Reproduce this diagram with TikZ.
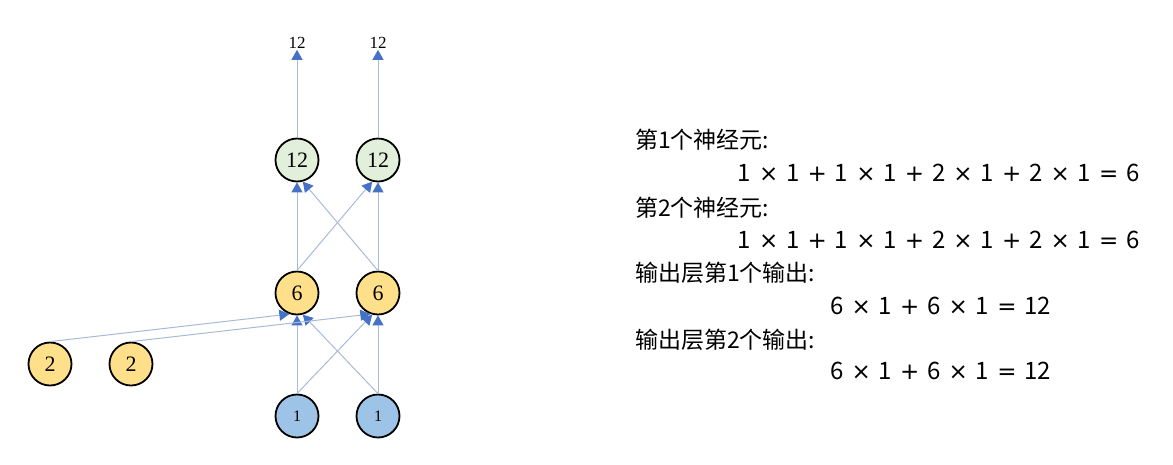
\documentclass[tikz,border=0pt]{standalone}
\usepackage{fontspec}
\setmainfont{Liberation Serif}
\newfontfamily\cjk{Noto Sans CJK SC}
\newfontfamily\opfont{DejaVu Sans}
\usetikzlibrary{arrows.meta}
\definecolor{edgec}{HTML}{A9BAD8}
\definecolor{tipc}{HTML}{4472C4}
\definecolor{gfill}{HTML}{E2EFDA}
\definecolor{yfill}{HTML}{FFE08A}
\definecolor{bfill}{HTML}{9DC3E6}
\newcommand\myeqfont{\cjk\fontsize{24}{24}\selectfont\spaceskip=8pt\relax}
\newcommand\myop[1]{{\opfont\fontsize{23}{23}\selectfont #1}}
\tikzset{
  neuron/.style={circle,draw=black,line width=1.8pt,minimum size=43pt,inner sep=0pt,font=\fontsize{22}{22}\selectfont},
  conn/.style={draw=edgec,line width=1pt,-{Triangle[length=10pt,width=11pt,color=tipc]}},
  txt/.style={font=\cjk\fontsize{23}{23}\selectfont,inner sep=0pt},
  eq/.style={font=\myeqfont,inner sep=0pt},
}
\begin{document}
\begin{tikzpicture}[x=1pt,y=-1pt]
\useasboundingbox (0,0) rectangle (1173,464);
% nodes
\node[neuron,fill=gfill] (g1) at (297,160) {12};
\node[neuron,fill=gfill] (g2) at (378,160) {12};
\node[neuron,fill=yfill] (s1) at (297,293) {6};
\node[neuron,fill=yfill] (s2) at (378,293) {6};
\node[neuron,fill=yfill] (t1) at (50,364) {2};
\node[neuron,fill=yfill] (t2) at (131,364) {2};
\node[neuron,fill=bfill,font=\fontsize{16}{16}\selectfont] (b1) at (297,416) {1};
\node[neuron,fill=bfill,font=\fontsize{16}{16}\selectfont] (b2) at (378,416) {1};
\node[font=\fontsize{17}{17}\selectfont,inner sep=1pt] (o1) at (297,43) {12};
\node[font=\fontsize{17}{17}\selectfont,inner sep=1pt] (o2) at (378,43) {12};
% connectors
\draw[conn] (b1.north) -- (s1.south);
\draw[conn] (b2.north) -- (s2.south);
\draw[conn] (b1.north) -- (s2.255);
\draw[conn] (b2.north) -- (s1.285);
\draw[conn] (t1.north) -- (s1.250);
\draw[conn] (t2.north) -- (s2.250);
\draw[conn] (s1.north) -- (g1.south);
\draw[conn] (s2.north) -- (g2.south);
\draw[conn] (s1.north) -- (g2.255);
\draw[conn] (s2.north) -- (g1.285);
\draw[conn] (g1.north) -- (o1.south);
\draw[conn] (g2.north) -- (o2.south);
% text
\node[txt,anchor=west] (l1) at (635,140) {第1个神经元:};
\node[eq,anchor=east] (e1) at (1140,173) {1 \myop{×} 1 \myop{+} 1 \myop{×} 1 \myop{+} 2 \myop{×} 1 \myop{+} 2 \myop{×} 1 \myop{=} 6};
\node[txt,anchor=west] (l2) at (635,208) {第2个神经元:};
\node[eq,anchor=east] (e2) at (1140,240) {1 \myop{×} 1 \myop{+} 1 \myop{×} 1 \myop{+} 2 \myop{×} 1 \myop{+} 2 \myop{×} 1 \myop{=} 6};
\node[txt,anchor=west] (l3) at (635,273) {输出层第1个输出:};
\node[eq,anchor=west] (e3) at (830,306) {6 \myop{×} 1 \myop{+} 6 \myop{×} 1 \myop{=} 12};
\node[txt,anchor=west] (l4) at (635,340) {输出层第2个输出:};
\node[eq,anchor=west] (e4) at (830,371) {6 \myop{×} 1 \myop{+} 6 \myop{×} 1 \myop{=} 12};
\end{tikzpicture}
\end{document}
